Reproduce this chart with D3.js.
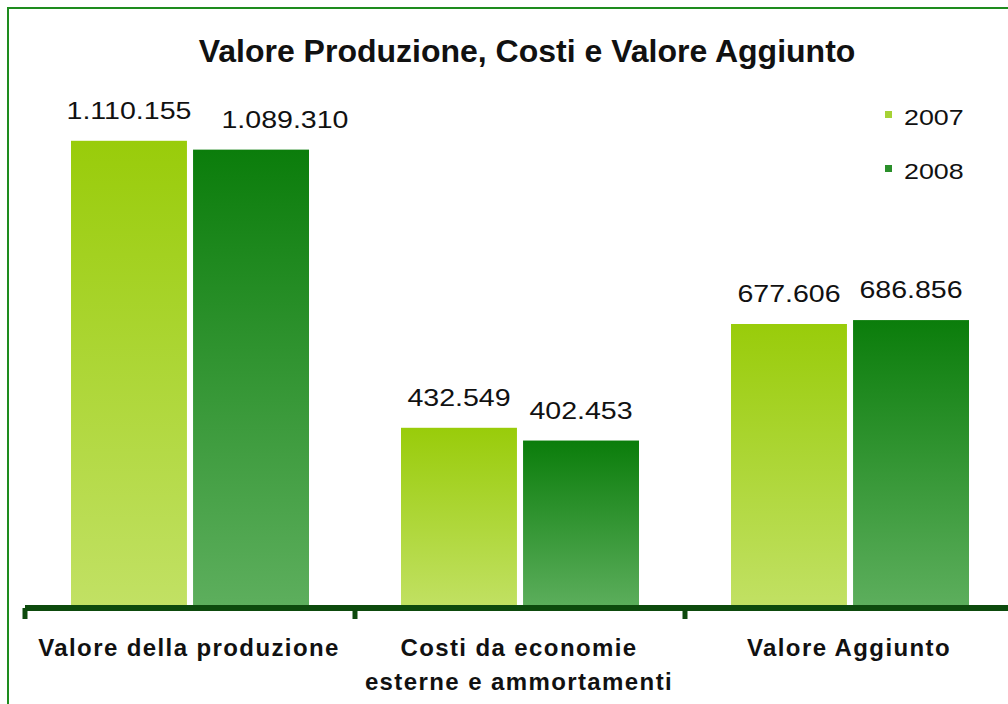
<!DOCTYPE html>
<html>
<head>
<meta charset="utf-8">
<script src="https://cdn.jsdelivr.net/npm/d3@7"></script>
<style>
  body { margin: 0; background: #fff; }
  svg { display: block; }
</style>
</head>
<body>
<div id="chart"></div>
<script>
const categories = [
  ["Valore della produzione"],
  ["Costi da economie", "esterne e ammortamenti"],
  ["Valore Aggiunto"]
];
const years = ["2007", "2008"];
const values2007 = [1110155, 432549, 677606];
const values2008 = [1089310, 402453, 686856];
const valueLabels2007 = ["1.110.155", "432.549", "677.606"];
const valueLabels2008 = ["1.089.310", "402.453", "686.856"];

const width = 1008, height = 704;
const stretch = 1.19; // labels in the original are drawn wide

const svg = d3.select("#chart")
  .append("svg")
  .attr("width", width)
  .attr("height", height);

// gradients
const defs = svg.append("defs");
const grads = [
  { id: "g2007", top: "#99cc0a", bottom: "#c2e165" },
  { id: "g2008", top: "#0b7d0b", bottom: "#5eaf5e" }
];
grads.forEach(g => {
  let lg = defs.append("linearGradient")
    .attr("id", g.id)
    .attr("x1", 0).attr("y1", 0).attr("x2", 0).attr("y2", 1);
  lg.append("stop").attr("offset", "0%").attr("stop-color", g.top);
  lg.append("stop").attr("offset", "100%").attr("stop-color", g.bottom);
});

// outer border (extends past the window)
svg.append("rect")
  .attr("x", 8).attr("y", 8)
  .attr("width", 1100).attr("height", 800)
  .attr("fill", "none")
  .attr("stroke", "#1e8c1e")
  .attr("stroke-width", 2);

svg.append("text")
  .attr("x", 527)
  .attr("y", 62)
  .attr("text-anchor", "middle")
  .attr("font-family", "Liberation Sans, Arial, sans-serif")
  .attr("font-weight", "bold")
  .attr("font-size", 32)
  .attr("fill", "#111")
  .text("Valore Produzione, Costi e Valore Aggiunto");

const x0 = d3.scaleBand()
  .domain(d3.range(categories.length))
  .range([25, 1015]);

const x1 = d3.scaleBand()
  .domain(years)
  .range([46, 284])
  .paddingInner(0.05);

const y = d3.scaleLinear()
  .domain([0, 1200000])
  .range([611, 611 - 1200000 * 4.2355e-4]);

const data = categories.map((c, i) => [
  { year: "2007", value: values2007[i], label: valueLabels2007[i] },
  { year: "2008", value: values2008[i], label: valueLabels2008[i] }
]);

const groups = svg.selectAll(".group")
  .data(data)
  .enter()
  .append("g")
  .attr("class", "group")
  .attr("transform", (d, i) => `translate(${x0(i)},0)`);

groups.selectAll("rect")
  .data(d => d)
  .enter()
  .append("rect")
  .attr("x", d => x1(d.year))
  .attr("y", d => y(d.value))
  .attr("width", x1.bandwidth())
  .attr("height", d => y(0) - y(d.value))
  .attr("fill", d => `url(#g${d.year})`);

groups.each(function (d) {
  let g = d3.select(this);
  let labels = g.selectAll(".val")
    .data(d)
    .enter()
    .append("text")
    .attr("class", "val")
    .attr("text-anchor", "middle")
    .attr("font-family", "Liberation Sans, Arial, sans-serif")
    .attr("font-size", 24)
    .attr("fill", "#111")
    .text(v => v.label);

  // centre over bars, push the second label right if they collide
  let prevRight = null;
  labels.each(function (v) {
    let w = this.getBBox().width * stretch;
    let cx = x1(v.year) + x1.bandwidth() / 2;
    if (prevRight !== null && cx - w / 2 < prevRight + 2) {
      cx = prevRight + 30 + w / 2;
    }
    prevRight = cx + w / 2;
    d3.select(this)
      .attr("transform", `translate(${cx},${y(v.value) - 22}) scale(${stretch},1)`);
  });
});

// axis
const axisG = svg.append("g").attr("transform", "translate(0,608)");
axisG.call(d3.axisBottom(x0).tickSize(0).tickFormat(""));
axisG.select(".domain")
  .attr("stroke", "#0d4a0d")
  .attr("stroke-width", 6)
  .attr("d", "M25,0H1015");
const tickPos = [0, 1, 2].map(i => x0(i));
axisG.selectAll(".btick")
  .data(tickPos)
  .enter()
  .append("line")
  .attr("class", "btick")
  .attr("x1", d => d).attr("x2", d => d)
  .attr("y1", 0).attr("y2", 11)
  .attr("stroke", "#0d4a0d")
  .attr("stroke-width", 5);

// category labels
const catText = svg.selectAll(".cat")
  .data(categories)
  .enter()
  .append("text")
  .attr("class", "cat")
  .attr("x", (d, i) => x0(i) + x0.bandwidth() / 2 - 1)
  .attr("y", 656)
  .attr("text-anchor", "middle")
  .attr("font-family", "Liberation Sans, Arial, sans-serif")
  .attr("font-weight", "bold")
  .attr("font-size", 24)
  .attr("letter-spacing", 1.4)
  .attr("fill", "#111");
catText.selectAll("tspan")
  .data(d => d)
  .enter()
  .append("tspan")
  .attr("x", function () { return d3.select(this.parentNode).attr("x"); })
  .attr("dy", (d, i) => i === 0 ? 0 : 34)
  .text(d => d);

// legend
const legend = svg.selectAll(".legend")
  .data(years)
  .enter()
  .append("g")
  .attr("class", "legend")
  .attr("transform", (d, i) => `translate(885,${114 + i * 54})`);
legend.append("rect")
  .attr("x", 0).attr("y", -3)
  .attr("width", 7).attr("height", 7)
  .attr("fill", d => d === "2007" ? "#a6d235" : "#2a8f2a");
legend.append("text")
  .attr("transform", "translate(19,11) scale(1.22,1)")
  .attr("font-family", "Liberation Sans, Arial, sans-serif")
  .attr("font-size", 22)
  .attr("fill", "#111")
  .text(d => d);
</script>
</body>
</html>
